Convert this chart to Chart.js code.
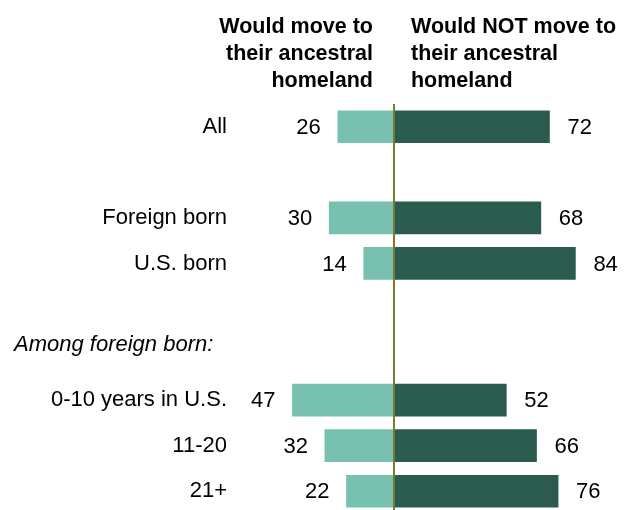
<!DOCTYPE html>
<html>
<head>
<meta charset="utf-8">
<script src="https://cdn.jsdelivr.net/npm/chart.js@4"></script>
<style>
  html, body { margin: 0; padding: 0; background: #fff; }
  #wrap { width: 627px; height: 510px; position: relative; }
</style>
</head>
<body>
<div id="wrap"><canvas id="chart" width="627" height="510"></canvas></div>
<script>
// rows, blank slots are spacers
var categories = ['All', '', 'Foreign born', 'U.S. born', '', 'Among foreign born:', '0-10 years in U.S.', '11-20', '21+'];
var wouldMove = [26, null, 30, 14, null, null, 47, 32, 22];
var wouldNotMove = [72, null, 68, 84, null, null, 52, 66, 76];
var headerLeft = ['Would move to', 'their ancestral', 'homeland'];
var headerRight = ['Would NOT move to', 'their ancestral', 'homeland'];
var sectionLabel = 'Among foreign born:';

var LIGHT = '#78c1b0';
var DARK = '#2a5b4e';
var FONT = '"Liberation Sans", Arial, sans-serif';

// custom drawing: headers, center line, value labels, section label
const extras = {
  id: 'extras',
  afterLayout(chart) {
    // last row sits a bit below the canvas edge in the original, stretch the scale
    const y = chart.scales.y;
    y.bottom = y.bottom + 4;
    y.configure();
  },
  afterDatasetsDraw(chart) {
    const c = chart.ctx;
    const x = chart.scales.x, y = chart.scales.y;
    const x0 = x.getPixelForValue(0);
    c.save();

    // column headers
    c.fillStyle = '#000';
    c.font = 'bold 21.5px ' + FONT;
    c.textBaseline = 'alphabetic';
    c.textAlign = 'right';
    headerLeft.forEach((t, i) => c.fillText(t, x0 - 21, 33 + i * 27));
    c.textAlign = 'left';
    headerRight.forEach((t, i) => c.fillText(t, x0 + 17, 33 + i * 27));

    // value labels
    c.font = '22px ' + FONT;
    c.textBaseline = 'middle';
    categories.forEach((cat, i) => {
      const yy = y.getPixelForValue(i) + 1;
      if (wouldMove[i] != null) {
        c.textAlign = 'right';
        c.fillText(wouldMove[i], x.getPixelForValue(-wouldMove[i]) - 17, yy);
      }
      if (wouldNotMove[i] != null) {
        c.textAlign = 'left';
        c.fillText(wouldNotMove[i], x.getPixelForValue(wouldNotMove[i]) + 18, yy);
      }
    });

    // section label, left aligned
    const si = categories.indexOf(sectionLabel);
    c.font = 'italic 22px ' + FONT;
    c.textAlign = 'left';
    c.fillText(sectionLabel, 14, y.getPixelForValue(si) - 10);

    // center line
    c.strokeStyle = '#7a7a30';
    c.lineWidth = 2;
    c.beginPath();
    c.moveTo(x0, 104);
    c.lineTo(x0, chart.height);
    c.stroke();
    c.restore();
  }
};

new Chart(document.getElementById('chart'), {
  type: 'bar',
  data: {
    labels: categories,
    datasets: [
      {
        label: 'Would move to their ancestral homeland',
        data: wouldMove.map(v => v == null ? null : -v),
        backgroundColor: LIGHT,
        barThickness: 32,
        borderSkipped: false
      },
      {
        label: 'Would NOT move to their ancestral homeland',
        data: wouldNotMove,
        backgroundColor: DARK,
        barThickness: 32,
        borderSkipped: false
      }
    ]
  },
  options: {
    indexAxis: 'y',
    responsive: false,
    animation: false,
    layout: { padding: { top: 104, bottom: 0, left: 0, right: 0 } },
    plugins: { legend: { display: false }, tooltip: { enabled: false } },
    scales: {
      x: {
        stacked: true,
        display: false,
        min: -71.3,
        max: 107.9
      },
      y: {
        stacked: true,
        grid: { display: false, drawTicks: false },
        border: { display: false },
        afterFit(scale) {
          scale.width = 240;
          scale.paddingTop = 0;
          scale.paddingBottom = 0;
        },
        ticks: {
          padding: 13,
          color: '#000',
          font: { family: FONT, size: 22 },
          callback: function (v) {
            var l = this.getLabelForValue(v);
            return l === sectionLabel ? '' : l;
          }
        }
      }
    }
  },
  plugins: [extras]
});
</script>
</body>
</html>
